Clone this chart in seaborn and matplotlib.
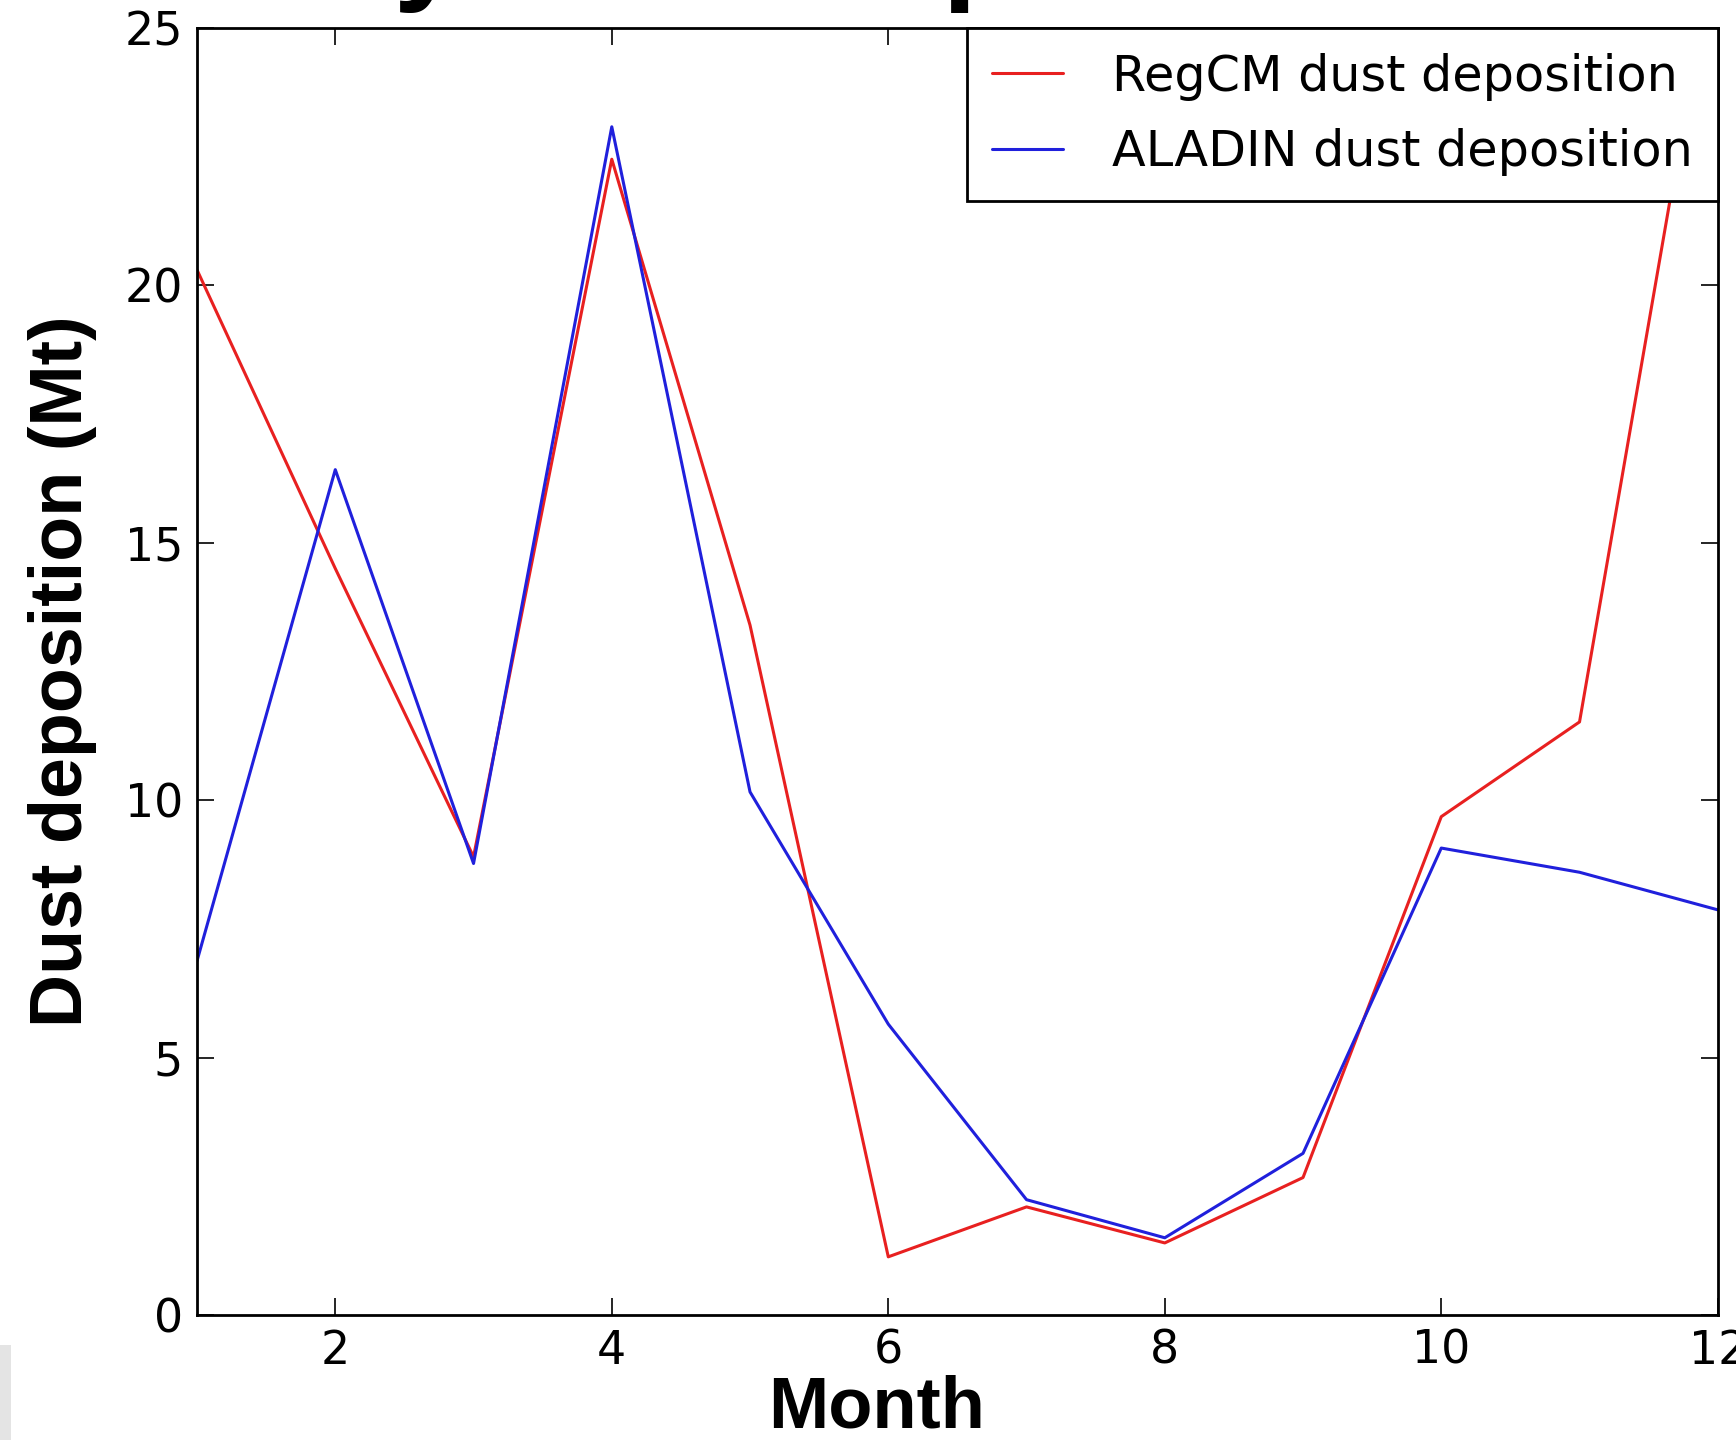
import matplotlib
matplotlib.use("Agg")
import matplotlib.pyplot as plt
import matplotlib.patches as mpatches
import pandas as pd
import seaborn as sns

# monthly dust deposition (Mt)
months = [1, 2, 3, 4, 5, 6, 7, 8, 9, 10, 11, 12]
regcm = [20.3, 14.5, 8.9, 22.45, 13.4, 1.13, 2.1, 1.4, 2.67, 9.68, 11.52, 27.0]
aladin = [6.88, 16.42, 8.77, 23.08, 10.16, 5.65, 2.24, 1.5, 3.14, 9.07, 8.6, 7.87]
series_names = ["RegCM dust deposition", "ALADIN dust deposition"]
x_ticks = [2, 4, 6, 8, 10, 12]
y_ticks = [0, 5, 10, 15, 20, 25]

sns.set_theme(style="ticks")
plt.rcParams.update({
    "font.family": ["DejaVu Sans"],
    "text.color": "black",
    "axes.labelcolor": "black",
    "axes.edgecolor": "black",
    "xtick.color": "black",
    "ytick.color": "black",
    "xtick.direction": "in",
    "ytick.direction": "in",
    "xtick.top": True,
    "ytick.right": True,
    "axes.linewidth": 2.0,
})

df = pd.DataFrame({
    "Month": months * 2,
    "Deposition": regcm + aladin,
    "Model": [series_names[0]] * len(months) + [series_names[1]] * len(months),
})

fig = plt.figure(figsize=(17.36, 14.4), dpi=100)
ax = fig.add_axes([0.1135, 0.0868, 0.876, 0.8938])

sns.lineplot(data=df, x="Month", y="Deposition", hue="Model",
             palette=["#e82020", "#2020dc"], linewidth=2.2, ax=ax)

ax.set_xlim(1, 12)
ax.set_ylim(0, 25)
ax.set_xticks(x_ticks)
ax.set_yticks(y_ticks)
ax.tick_params(axis="both", which="major", length=12, width=1.2,
               labelsize=33, pad=10)
for spine in ax.spines.values():
    spine.set_visible(True)

label_font = ["Liberation Sans", "Arial", "DejaVu Sans"]
ax.set_xlabel("Month", fontsize=52, fontweight="bold", family=label_font)
ax.xaxis.set_label_coords(0.447, -0.046)
ax.set_ylabel("Dust deposition (Mt)", fontsize=53, fontweight="bold", family=label_font)
ax.yaxis.set_label_coords(-0.066, 0.5)

leg = ax.legend(loc="upper right", fontsize=35.5, borderaxespad=0,
                fancybox=False, framealpha=1, edgecolor="black",
                handlelength=1.45, handletextpad=1.0, borderpad=0.5,
                labelspacing=0.56)
leg.get_frame().set_linewidth(2.0)
for line in leg.get_lines():
    line.set_linewidth(2.2)

# title of the source slide, cut off by the top edge
fig.text(0.407, 1.009, "Monthly dust deposition", fontsize=90, fontweight="bold",
         family=label_font, ha="center", va="baseline")

# light grey strip in the bottom-left corner
fig.patches.append(mpatches.Rectangle((0, 0), 0.0065, 0.066, transform=fig.transFigure,
                                      facecolor="#e4e4e4", edgecolor="none"))

fig.savefig("out.png", dpi=100, facecolor="white")
